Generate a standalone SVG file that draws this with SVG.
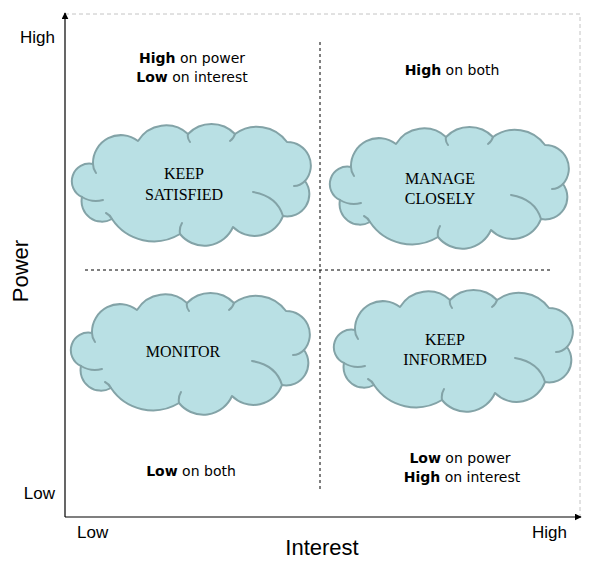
<svg xmlns="http://www.w3.org/2000/svg" xmlns:xlink="http://www.w3.org/1999/xlink" width="595" height="568" viewBox="0 0 595 568">
  <style>
    .cloud { fill: #b9e0e4; stroke: #83a3a7; stroke-width: 2; stroke-linejoin: round; }
    .inner { fill: none; stroke: #83a3a7; stroke-width: 2; stroke-linecap: round; }
    .ctext { font-family: "Liberation Serif", "Times New Roman", serif; font-size: 16px; fill: #000; text-anchor: middle; }
    .qtext { font-family: "Comic Sans MS", "DejaVu Sans", sans-serif; font-size: 14px; fill: #000; text-anchor: middle; }
    .qtext .b { font-weight: bold; }
    .axlabel { font-family: "Liberation Sans", Arial, sans-serif; font-size: 17px; fill: #000; }
    .axtitle { font-family: "Liberation Sans", Arial, sans-serif; font-size: 22px; fill: #000; text-anchor: middle; }
    .axis { stroke: #000; stroke-width: 1.2; fill: none; }
    .divider { stroke: #000; stroke-width: 1; stroke-dasharray: 3 3; fill: none; }
    .frame { stroke: #c4c4c4; stroke-width: 1; stroke-dasharray: 4 3; fill: none; }
  </style>
  <defs>
    <marker id="arrow" viewBox="0 0 10 10" refX="9" refY="5" markerWidth="7" markerHeight="7" markerUnits="userSpaceOnUse" orient="auto">
      <path d="M0,0 L10,5 L0,10 Z" fill="#000"/>
    </marker>
    <g id="cloudShape">
      <path class="cloud" d="M23,40 A27.9,27.9 0 0 1 68,17 A32.6,32.6 0 0 1 118,10 A32.6,32.6 0 0 1 165,10 A37,37 0 0 1 217,18 A23.5,23.5 0 0 1 235,57 A22.2,22.2 0 0 1 213,92 A30.4,30.4 0 0 1 163,103 A31.3,31.3 0 0 1 110,110 A50.3,50.3 0 0 1 42,95 A20.4,20.4 0 0 1 12,73 A17.5,17.5 0 0 1 23,40 Z"/>
      <path class="inner" d="M12,73 Q22,79 33,76 M213,92 Q207,72 183,68 M235,57 Q230,62 224,62 M110,110 Q109,104 112,99 M42,95 Q40,91 36,89 M23,40 Q23,45 26,49 M118,10 Q117,14 120,18 M165,10 Q164,14 160,17"/>
    </g>
  </defs>

  <rect width="595" height="568" fill="#fff"/>

  <g id="connectors">
    <path class="frame" d="M65,14 L580,14 L580,517"/>
    <line class="divider" x1="320" y1="42" x2="320" y2="492"/>
    <line class="divider" x1="85" y1="270" x2="552" y2="270"/>
    <line class="axis" x1="65" y1="517" x2="65" y2="13" marker-end="url(#arrow)"/>
    <line class="axis" x1="65" y1="517" x2="581" y2="517" marker-end="url(#arrow)"/>
  </g>

  <g id="axis-labels">
    <text class="axlabel" x="55" y="43" text-anchor="end">High</text>
    <text class="axlabel" x="55" y="499" text-anchor="end">Low</text>
    <text class="axlabel" x="77" y="538">Low</text>
    <text class="axlabel" x="567" y="538" text-anchor="end">High</text>
    <text class="axtitle" x="322" y="555">Interest</text>
    <text class="axtitle" transform="translate(28,271) rotate(-90)">Power</text>
  </g>

  <g id="node-keep-satisfied">
    <use xlink:href="#cloudShape" transform="translate(70,124)"/>
    <text class="ctext" x="184" y="179">KEEP</text>
    <text class="ctext" x="184" y="200">SATISFIED</text>
  </g>

  <g id="node-manage-closely">
    <use xlink:href="#cloudShape" transform="translate(328,127)"/>
    <text class="ctext" x="440" y="184">MANAGE</text>
    <text class="ctext" x="440" y="204">CLOSELY</text>
  </g>

  <g id="node-monitor">
    <use xlink:href="#cloudShape" transform="translate(69,293)"/>
    <text class="ctext" x="183" y="357">MONITOR</text>
  </g>

  <g id="node-keep-informed">
    <use xlink:href="#cloudShape" transform="translate(332,290)"/>
    <text class="ctext" x="445" y="345">KEEP</text>
    <text class="ctext" x="445" y="365">INFORMED</text>
  </g>

  <g id="label-top-left">
    <text class="qtext" x="192" y="63"><tspan class="b">High</tspan> on power</text>
    <text class="qtext" x="192" y="82"><tspan class="b">Low</tspan> on interest</text>
  </g>
  <g id="label-top-right">
    <text class="qtext" x="452" y="75"><tspan class="b">High</tspan> on both</text>
  </g>
  <g id="label-bottom-left">
    <text class="qtext" x="191" y="476"><tspan class="b">Low</tspan> on both</text>
  </g>
  <g id="label-bottom-right">
    <text class="qtext" x="460" y="463"><tspan class="b">Low</tspan> on power</text>
    <text class="qtext" x="462" y="482"><tspan class="b">High</tspan> on interest</text>
  </g>
</svg>
